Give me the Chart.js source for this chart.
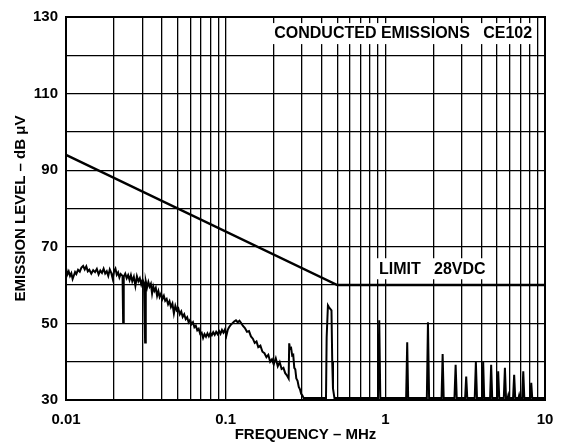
<!DOCTYPE html>
<html>
<head>
<meta charset="utf-8">
<script src="https://cdn.jsdelivr.net/npm/chart.js@4/dist/chart.umd.min.js"></script>
<style>
  body { margin: 0; background: #fff; }
  #wrap { width: 565px; height: 444px; }
</style>
</head>
<body>
<div id="wrap"><canvas id="grafico" width="565" height="444"></canvas></div>
<script>
// eixos
const xTickValues = [0.01, 0.1, 1, 10];
const xTickLabels = ['0.01', '0.1', '1', '10'];
const yTickLabels = [30, 50, 70, 90, 110, 130];

// limite CE102 (28VDC)
const limitFreq = [0.01, 0.5, 10];
const limitLevel = [94, 60, 60];

// emissao medida [MHz, dBuV]
const emission = [
  [0.0100, 64.5], [0.0102, 62.8], [0.0104, 63.6], [0.0106, 62.4], [0.0108, 63.1],
  [0.0110, 61.6], [0.0112, 62.5], [0.0114, 63.4], [0.0116, 62.9], [0.0119, 64.0],
  [0.0122, 63.5], [0.0125, 64.6], [0.0128, 65.0], [0.0131, 64.1], [0.0134, 64.9],
  [0.0137, 63.6], [0.0140, 64.0], [0.0144, 63.0], [0.0148, 63.9], [0.0152, 63.4],
  [0.0156, 64.2], [0.0160, 62.8], [0.0164, 63.8], [0.0168, 63.2], [0.0172, 64.3],
  [0.0176, 63.0], [0.0180, 63.6], [0.0184, 62.4], [0.0188, 64.1], [0.0192, 63.2],
  [0.0196, 61.7], [0.0200, 63.6], [0.0204, 64.3], [0.0208, 62.7], [0.0212, 63.3],
  [0.0216, 62.0], [0.0220, 62.9], [0.0226, 62.4], [0.0228, 50.2], [0.0230, 62.2],
  [0.0235, 63.0], [0.0240, 61.8], [0.0245, 62.6], [0.0250, 61.3], [0.0255, 62.6],
  [0.0260, 61.0], [0.0266, 62.2], [0.0272, 59.8], [0.0278, 62.3], [0.0284, 61.0],
  [0.0290, 61.8], [0.0296, 60.2], [0.0302, 61.4], [0.0308, 60.5], [0.0313, 45.0],
  [0.0316, 61.0], [0.0322, 59.4], [0.0328, 60.8], [0.0334, 59.6], [0.0340, 60.3],
  [0.0346, 57.8], [0.0352, 59.6], [0.0358, 58.5], [0.0365, 59.3], [0.0372, 57.2],
  [0.0379, 58.4], [0.0386, 56.9], [0.0394, 57.8], [0.0402, 56.4], [0.0410, 57.2],
  [0.0418, 55.9], [0.0427, 56.4], [0.0436, 55.0], [0.0445, 55.8], [0.0454, 54.3],
  [0.0464, 55.2], [0.0474, 52.6], [0.0484, 54.6], [0.0494, 53.4], [0.0505, 53.9],
  [0.0516, 52.4], [0.0527, 53.1], [0.0538, 51.7], [0.0550, 52.4], [0.0562, 51.1],
  [0.0574, 51.6], [0.0586, 50.3], [0.0598, 50.9], [0.0611, 49.8], [0.0624, 50.3],
  [0.0637, 49.0], [0.0650, 49.4], [0.0664, 48.2], [0.0678, 48.6], [0.0692, 47.3],
  [0.0707, 47.6], [0.0722, 46.2], [0.0737, 47.2], [0.0753, 46.5], [0.0769, 47.4],
  [0.0785, 46.6], [0.0802, 47.5], [0.0819, 46.9], [0.0836, 47.7], [0.0854, 47.0],
  [0.0872, 47.8], [0.0890, 47.2], [0.0909, 48.0], [0.0928, 47.3], [0.0948, 48.3],
  [0.0968, 47.6], [0.0989, 48.4], [0.1010, 46.8], [0.1030, 48.3], [0.1050, 49.0],
  [0.1070, 49.5], [0.1100, 50.0], [0.1130, 50.5], [0.1160, 50.8], [0.1190, 50.3],
  [0.1220, 50.7], [0.1250, 50.1], [0.1280, 49.4], [0.1320, 48.8], [0.1360, 47.8],
  [0.1400, 48.0], [0.1440, 46.6], [0.1480, 46.0], [0.1520, 44.9], [0.1560, 45.3],
  [0.1600, 43.8], [0.1650, 44.2], [0.1700, 42.6], [0.1750, 42.2], [0.1800, 41.2],
  [0.1850, 41.8], [0.1900, 40.0], [0.1950, 40.6], [0.2000, 39.3], [0.2060, 40.9],
  [0.2120, 38.8], [0.2180, 39.9], [0.2240, 38.1], [0.2300, 38.4], [0.2360, 37.0],
  [0.2420, 36.4], [0.2480, 35.6], [0.2500, 44.8], [0.2530, 43.4], [0.2570, 43.6],
  [0.2610, 41.6], [0.2650, 41.8], [0.2690, 38.4], [0.2730, 38.0], [0.2770, 35.6],
  [0.2820, 35.0], [0.2870, 33.4], [0.2920, 32.8], [0.2970, 31.6], [0.3020, 31.2],
  [0.3080, 30.5], [0.3150, 30.5],
  [0.4250, 30.5], [0.4290, 46.4], [0.4370, 54.7], [0.4440, 54.2], [0.4600, 53.4],
  [0.4650, 40.0], [0.4700, 33.0], [0.4800, 30.5],
  [0.900, 30.5], [0.916, 50.8], [0.930, 30.5],
  [1.350, 30.5], [1.371, 45.1], [1.390, 30.5],
  [1.820, 30.5], [1.849, 50.3], [1.880, 30.5],
  [2.250, 30.5], [2.285, 42.0], [2.320, 30.5],
  [2.710, 30.5], [2.756, 39.2], [2.800, 30.5],
  [3.160, 30.5], [3.210, 36.1], [3.260, 30.5],
  [3.630, 30.5], [3.690, 39.9], [3.750, 30.5],
  [4.040, 30.5], [4.100, 39.9], [4.160, 30.5],
  [4.530, 30.5], [4.600, 39.2], [4.670, 30.5],
  [5.010, 30.5], [5.090, 37.5], [5.170, 30.5],
  [5.520, 30.5], [5.610, 38.4], [5.700, 30.5],
  [5.840, 30.5], [5.890, 31.2], [5.940, 30.5],
  [6.310, 30.5], [6.410, 36.6], [6.510, 30.5],
  [6.830, 30.5], [6.890, 31.2], [6.950, 30.5],
  [7.200, 30.5], [7.310, 37.5], [7.420, 30.5],
  [8.080, 30.5], [8.200, 34.5], [8.320, 30.5],
  [10.00, 30.5]
];

// textos dentro do grafico
const notas = [
  { texto: 'CONDUCTED EMISSIONS   CE102', x: 8.3, y: 125.8, align: 'right' },
  { texto: 'LIMIT   28VDC', x: 0.912, y: 64.4, align: 'left' }
];

const FONTE = '"Liberation Sans", Arial, Helvetica, sans-serif';

// todas as linhas de grade 1..9 por decada
const xGrid = [];
[0.01, 0.1, 1].forEach(d => {
  for (let m = 1; m < 10; m++) xGrid.push(+(d * m).toPrecision(3));
});
xGrid.push(10);

const notasPlugin = {
  id: 'notas',
  beforeDatasetsDraw(chart) {
    const { ctx, chartArea, scales } = chart;
    ctx.save();
    ctx.font = 'bold 16px ' + FONTE;
    ctx.textBaseline = 'middle';
    notas.forEach(n => {
      const px = scales.x.getPixelForValue(n.x);
      const py = scales.y.getPixelForValue(n.y);
      const w = ctx.measureText(n.texto).width;
      const x0 = n.align === 'right' ? px - w : px;
      ctx.fillStyle = '#fff';
      ctx.fillRect(x0 - 3, py - 10, w + 6, 21);
      ctx.fillStyle = '#000';
      ctx.textAlign = 'left';
      ctx.fillText(n.texto, x0, py + 1);
    });
    // moldura
    ctx.strokeStyle = '#000';
    ctx.lineWidth = 2;
    ctx.strokeRect(chartArea.left, chartArea.top, chartArea.right - chartArea.left, chartArea.bottom - chartArea.top);
    ctx.restore();
  }
};

new Chart(document.getElementById('grafico'), {
  type: 'line',
  data: {
    datasets: [
      {
        label: 'Limit',
        data: limitFreq.map((f, i) => ({ x: f, y: limitLevel[i] })),
        borderColor: '#000',
        borderWidth: 2.5,
        pointRadius: 0,
        tension: 0
      },
      {
        label: 'Emission',
        data: emission.map(p => ({ x: p[0], y: p[1] })),
        borderColor: '#000',
        borderWidth: 2,
        pointRadius: 0,
        tension: 0
      }
    ]
  },
  options: {
    responsive: false,
    animation: false,
    layout: { padding: { top: 17, right: 20, left: 0, bottom: 0 } },
    plugins: { legend: { display: false }, tooltip: { enabled: false } },
    scales: {
      x: {
        type: 'logarithmic',
        min: 0.01,
        max: 10,
        afterBuildTicks: s => { s.ticks = xGrid.map(v => ({ value: v })); },
        afterFit: s => { s.height = 44; },
        border: { display: false },
        grid: { color: '#000', lineWidth: 1.3, drawTicks: false },
        ticks: {
          autoSkip: false,
          maxRotation: 0,
          padding: 11,
          color: '#000',
          font: { family: FONTE, size: 15, weight: 'bold' },
          callback: v => {
            const i = xTickValues.findIndex(t => Math.abs(t - v) < v * 1e-6);
            return i >= 0 ? xTickLabels[i] : '';
          }
        },
        title: {
          display: true,
          text: 'FREQUENCY – MHz',
          color: '#000',
          padding: { top: 0, bottom: 0 },
          font: { family: FONTE, size: 15, weight: 'bold' }
        }
      },
      y: {
        min: 30,
        max: 130,
        afterFit: s => { s.width = 66; },
        border: { display: false },
        grid: { color: '#000', lineWidth: 1.3, drawTicks: false },
        ticks: {
          stepSize: 10,
          padding: 8,
          color: '#000',
          font: { family: FONTE, size: 15, weight: 'bold' },
          callback: v => yTickLabels.includes(v) ? String(v) : ''
        },
        title: {
          display: true,
          text: 'EMISSION LEVEL – dB μV',
          color: '#000',
          padding: { top: 12, bottom: 0 },
          font: { family: FONTE, size: 15, weight: 'bold' }
        }
      }
    }
  },
  plugins: [notasPlugin]
});
</script>
</body>
</html>
